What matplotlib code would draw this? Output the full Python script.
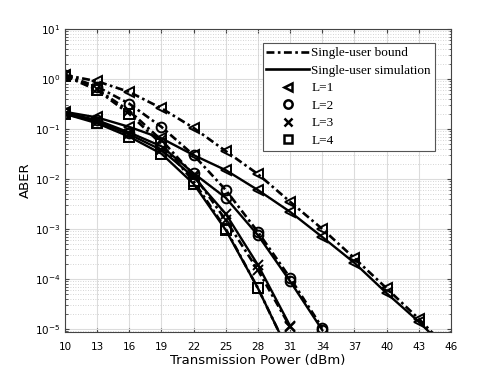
import numpy as np
import matplotlib
matplotlib.use("Agg")
import matplotlib.pyplot as plt
from matplotlib.lines import Line2D

# Datos
potencia = [10, 13, 16, 19, 22, 25, 28, 31, 34, 37, 40, 43, 46]

cota_L1 = [1.2, 0.9, 0.55, 0.26, 0.105, 0.036, 0.0125, 0.0035, 1.0e-3, 2.6e-4, 6.5e-5, 1.6e-5, 3.5e-6]
cota_L2 = [1.2, 0.7, 0.32, 0.11, 0.03, 0.006, 8.7e-4, 1.05e-4, 1.05e-5]
cota_L3 = [1.2, 0.62, 0.23, 0.06, 0.012, 0.0015, 1.5e-4, 1.1e-5]
cota_L4 = [1.15, 0.6, 0.2, 0.05, 0.009, 1.0e-3, 6.5e-5, 3.0e-6]

sim_L1 = [0.22, 0.17, 0.11, 0.065, 0.03, 0.015, 0.006, 0.0022, 6.9e-4, 2.1e-4, 5.2e-5, 1.4e-5, 3.2e-6]
sim_L2 = [0.21, 0.15, 0.085, 0.045, 0.013, 0.0042, 7.5e-4, 9.0e-5, 9.5e-6]
sim_L3 = [0.2, 0.14, 0.078, 0.038, 0.011, 0.002, 1.9e-4, 1.15e-5]
sim_L4 = [0.2, 0.13, 0.07, 0.032, 0.008, 9.5e-4, 6.5e-5, 3.0e-6]

etiquetas = ['L=1', 'L=2', 'L=3', 'L=4']
marcadores = ['<', 'o', 'x', 's']
xticks = np.arange(10, 47, 3)
yticks = [1e-5, 1e-4, 1e-3, 1e-2, 1e-1, 1e0, 1e1]

punto_raya = (0, (3, 1.3, 1, 1.3))

fig = plt.figure(figsize=(4.98, 3.74), dpi=100)
ax = fig.add_axes([0.1305, 0.1123, 0.775, 0.8102])

cotas = [cota_L1, cota_L2, cota_L3, cota_L4]
sims = [sim_L1, sim_L2, sim_L3, sim_L4]
for cota, sim, mk in zip(cotas, sims, marcadores):
    ax.semilogy(potencia[:len(cota)], cota, color='k', ls=punto_raya, lw=1.9,
                marker=mk, ms=7, mfc='none', mec='k', mew=1.4)
    ax.semilogy(potencia[:len(sim)], sim, color='k', ls='-', lw=1.7,
                marker=mk, ms=7, mfc='none', mec='k', mew=1.4)

ax.set_xlim(10, 46)
ax.set_ylim(8.7e-6, 10)
ax.set_xticks(xticks)
ax.set_xticklabels([str(v) for v in xticks], fontsize=7.5)
ax.set_yticks(yticks)
ax.set_yticklabels(['$10^{%d}$' % int(np.log10(v)) for v in yticks], fontsize=7.5)
ax.tick_params(axis='both', which='both', direction='in', top=True, right=True,
               labelsize=7.5, color='#444444')
ax.tick_params(axis='x', pad=7)
ax.tick_params(which='major', length=3)
ax.tick_params(which='minor', length=1.8, labelleft=False, labelbottom=False)
ax.yaxis.set_minor_locator(matplotlib.ticker.LogLocator(base=10, subs=np.arange(2, 10), numticks=20))
ax.yaxis.set_minor_formatter(matplotlib.ticker.NullFormatter())

ax.grid(True, which='major', color='#dcdcdc', lw=0.8, ls='-')
ax.grid(True, which='minor', color='#c8c8c8', lw=0.6, ls=(0, (1, 2)))
ax.set_axisbelow(True)
for s in ax.spines.values():
    s.set_color('#444444')
    s.set_linewidth(0.8)

ax.set_xlabel('Transmission Power (dBm)', fontsize=9.5, labelpad=2)
ax.set_ylabel('ABER', fontsize=9.5, labelpad=2)

handles = [Line2D([], [], color='k', ls=punto_raya, lw=1.9),
           Line2D([], [], color='k', ls='-', lw=1.9)]
for mk in marcadores:
    handles.append(Line2D([], [], color='k', ls='none', marker=mk, ms=6,
                          mfc='none', mec='k', mew=1.8))
leg = ax.legend(handles, ['Single-user bound', 'Single-user simulation'] + etiquetas,
                loc='upper right', bbox_to_anchor=(0.9585, 0.954),
                prop={'family': 'Liberation Serif', 'size': 9.5},
                handlelength=3.2, handletextpad=0.2, labelspacing=0.4,
                borderpad=0.3, borderaxespad=0, fancybox=False, framealpha=1,
                edgecolor='#555555')
leg.get_frame().set_linewidth(0.8)

fig.savefig('out.png', dpi=100)
